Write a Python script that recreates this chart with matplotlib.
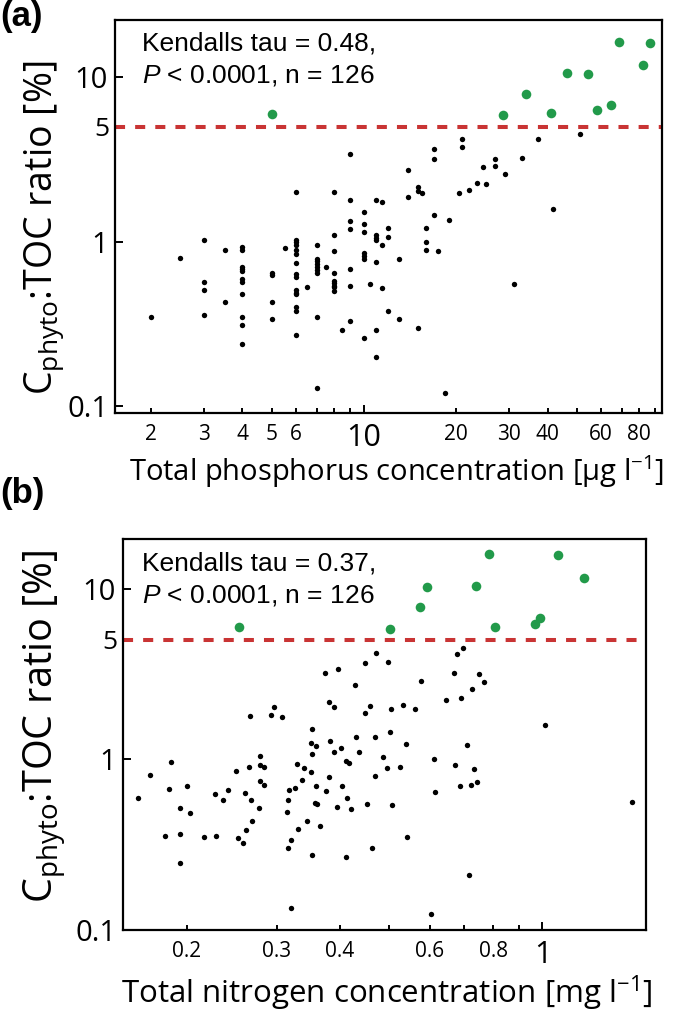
import matplotlib
matplotlib.use('Agg')
import matplotlib.pyplot as plt
from matplotlib.ticker import FixedLocator, FixedFormatter

# ---------------- data ----------------
# Panel (a): total phosphorus [ug/l] vs Cphyto:TOC ratio [%]
tp_black = [2, 2.5, 3, 3, 3, 3, 3.5, 3.5,
            4, 4, 4, 4, 4, 4, 4, 4, 4, 4, 4,
            5, 5, 5, 5, 5.5,
            6, 6, 6, 6, 6, 6, 6, 6, 6, 6, 6, 6, 6, 6, 6,
            6.5,
            7, 7, 7, 7, 7, 7, 7, 7, 7, 7.5,
            8, 8, 8, 8, 8, 8, 8, 8, 8, 8.5,
            9, 9, 9, 9, 9, 9, 9,
            10, 10, 10, 10, 10, 10, 10, 10.5,
            11, 11, 11, 11, 11, 11, 11,
            11.5, 11.5, 11.5, 12, 12, 12, 13, 13,
            14, 14, 15, 15, 15, 15.5, 16, 16, 16, 17, 17, 17, 17.5, 18.5, 19,
            20.5, 21, 21, 22.1, 23.5, 24.6, 25.1, 27, 27, 29, 31.1, 33.1, 37.1,
            41.6, 51.1]
ratio_a_black = [0.35, 0.80, 1.03, 0.57, 0.51, 0.36, 0.89, 0.43,
                 0.93, 0.89, 0.70, 0.68, 0.66, 0.59, 0.57, 0.48, 0.35, 0.31, 0.24,
                 0.65, 0.63, 0.43, 0.34, 0.92,
                 1.03, 0.99, 0.95, 0.89, 0.84, 0.74, 0.64, 0.61, 0.51, 0.49, 0.48, 0.40, 0.38, 0.27, 2.01,
                 0.53,
                 0.96, 0.79, 0.76, 0.73, 0.70, 0.67, 0.65, 0.35, 0.13, 0.70,
                 1.10, 0.88, 0.65, 0.58, 0.56, 0.54, 0.53, 0.50, 2.01, 0.29,
                 1.79, 1.34, 1.19, 0.68, 0.54, 0.33, 3.41,
                 1.51, 1.28, 1.15, 0.85, 0.82, 0.79, 0.26, 0.55,
                 1.80, 1.10, 1.06, 1.02, 0.75, 0.29, 0.20,
                 1.75, 0.95, 0.52, 1.22, 1.07, 0.38, 0.79, 0.34,
                 2.74, 1.87, 2.14, 2.03, 0.30, 1.99, 1.21, 0.99, 0.89, 3.67, 3.20, 1.45, 0.88, 0.12, 1.36,
                 1.99, 4.23, 3.75, 2.07, 2.28, 2.83, 2.24, 3.18, 2.90, 2.58, 0.55, 3.21, 4.19,
                 1.59, 4.53]
tp_green = [5.0, 28.6, 34.1, 41.1, 46.2, 54.2, 58.3, 64.7, 68.6, 82.4, 86.9]
ratio_a_green = [6.0, 5.89, 7.9, 6.03, 10.6, 10.5, 6.3, 6.78, 16.4, 11.9, 16.1]

# Panel (b): total nitrogen [mg/l] vs Cphyto:TOC ratio [%]
tn_black = [0.266, 0.292, 0.296, 0.308, 0.374, 0.397, 0.427, 0.381, 0.389, 0.448, 0.470, 0.497,
            0.448, 0.457, 0.503,
            0.680, 0.697, 0.576, 0.670, 0.749, 0.769, 0.727, 0.646, 0.691, 0.533, 0.562,
            0.501, 0.540, 0.525, 0.611, 0.616, 0.674, 0.711, 0.735, 0.688, 0.724, 0.744,
            0.506, 0.542, 0.718, 0.604, 1.01, 1.50,
            0.160, 0.169, 0.184, 0.186, 0.181, 0.194, 0.194, 0.194, 0.200, 0.203, 0.216,
            0.228, 0.227, 0.235, 0.241, 0.250, 0.252, 0.258, 0.260, 0.261, 0.265, 0.267,
            0.268, 0.278, 0.278, 0.284, 0.278, 0.283, 0.277,
            0.314, 0.316, 0.318, 0.326, 0.329, 0.316, 0.321, 0.320, 0.330, 0.337, 0.340,
            0.344, 0.350, 0.352, 0.350, 0.359, 0.353, 0.353, 0.359, 0.360, 0.357, 0.365,
            0.375, 0.380, 0.383, 0.389,
            0.395, 0.402, 0.404, 0.410, 0.411, 0.416, 0.412, 0.421, 0.430, 0.436,
            0.451, 0.463, 0.468, 0.469, 0.485, 0.495]
ratio_b_black = [1.80, 1.82, 2.02, 1.76, 3.19, 3.40, 2.73, 2.16, 2.02, 3.65, 4.18, 3.73,
                 1.86, 2.04, 1.97,
                 4.15, 4.49, 2.88, 3.19, 3.16, 2.82, 2.58, 2.23, 2.29, 2.07, 1.98,
                 1.45, 1.23, 0.90, 1.00, 0.64, 0.93, 1.22, 0.88, 0.70, 0.71, 0.74,
                 0.54, 0.35, 0.21, 0.124, 1.59, 0.56,
                 0.594, 0.805, 0.673, 0.965, 0.357, 0.516, 0.366, 0.248, 0.698, 0.485, 0.350,
                 0.353, 0.627, 0.581, 0.659, 0.852, 0.347, 0.322, 0.636, 0.384, 0.899, 0.574,
                 0.436, 1.04, 0.927, 0.902, 0.749, 0.707, 0.518,
                 0.493, 0.577, 0.659, 0.682, 0.932, 0.301, 0.338, 0.134, 0.390, 0.759, 0.890,
                 0.436, 0.844, 1.51, 1.24, 1.20, 1.08, 0.274, 0.698, 0.544, 0.558, 0.404,
                 0.656, 0.790, 1.28, 1.11,
                 0.527, 1.16, 0.698, 0.267, 0.978, 0.957, 0.594, 0.513, 1.35, 1.10,
                 0.547, 0.304, 1.35, 0.794, 1.03, 0.887]
tn_green = [0.253, 0.501, 0.574, 0.592, 0.741, 0.784, 0.807, 0.967, 0.990, 1.075, 1.208]
ratio_b_green = [5.99, 5.81, 7.76, 10.2, 10.3, 16.0, 5.94, 6.19, 6.70, 15.7, 11.6]

threshold = 5

# tick definitions
a_xmajor = [10]
a_xmajor_labels = ['10']
a_xminor = [2, 3, 4, 5, 6, 7, 8, 9, 20, 30, 40, 50, 60, 70, 80, 90]
a_xminor_labels = ['2', '3', '4', '5', '6', '', '', '', '20', '30', '40', '', '60', '', '80', '']
b_xmajor = [1]
b_xmajor_labels = ['1']
b_xminor = [0.2, 0.3, 0.4, 0.5, 0.6, 0.7, 0.8, 0.9]
b_xminor_labels = ['0.2', '0.3', '0.4', '', '0.6', '', '0.8', '']
y_major = [0.1, 1, 10]
y_major_labels = ['0.1', '1', '10']

stats_a = ['Kendalls tau = 0.48,', '$P$ < 0.0001, n = 126']
stats_b = ['Kendalls tau = 0.37,', '$P$ < 0.0001, n = 126']
xlabel_a = 'Total phosphorus concentration [µg l$^{\\mathregular{-1}}$]'
xlabel_b = 'Total nitrogen concentration [mg l$^{\\mathregular{-1}}$]'
ylabel = 'C$_{\\mathregular{phyto}}$:TOC ratio [%]'

# ---------------- styling ----------------
plt.rcParams['font.family'] = ['Open Sans', 'DejaVu Sans']
plt.rcParams['mathtext.fontset'] = 'custom'
plt.rcParams['mathtext.rm'] = 'Open Sans'
plt.rcParams['mathtext.it'] = 'Liberation Sans:italic'
plt.rcParams['mathtext.bf'] = 'Open Sans:bold'

GREEN = '#229a4a'
RED = '#c93434'

W, H = 685, 1014
fig = plt.figure(figsize=(W / 100, H / 100), dpi=100)


def fx(px):
    return px / W


def fy(py):
    return 1 - py / H


def make_axes(l, t, r, b):
    return fig.add_axes([fx(l), fy(b), fx(r) - fx(l), fy(t) - fy(b)])


def style(ax, xlim, ylim, xmaj, xmajl, xmin, xminl):
    ax.set_xscale('log')
    ax.set_yscale('log')
    ax.set_xlim(*xlim)
    ax.set_ylim(*ylim)
    ax.xaxis.set_major_locator(FixedLocator(xmaj))
    ax.xaxis.set_major_formatter(FixedFormatter(xmajl))
    ax.xaxis.set_minor_locator(FixedLocator(xmin))
    ax.xaxis.set_minor_formatter(FixedFormatter(xminl))
    ax.yaxis.set_major_locator(FixedLocator(y_major))
    ax.yaxis.set_major_formatter(FixedFormatter(y_major_labels))
    ax.yaxis.set_minor_locator(FixedLocator([threshold]))
    ax.yaxis.set_minor_formatter(FixedFormatter(['5']))
    for s in ax.spines.values():
        s.set_linewidth(1.6)
        s.set_color('black')
    ax.tick_params(axis='x', which='major', direction='in', length=6, width=1.4,
                   labelsize=22, pad=7)
    ax.tick_params(axis='x', which='minor', direction='in', length=3.5, width=1.4,
                   labelsize=15, pad=8)
    ax.tick_params(axis='y', which='major', direction='in', length=6, width=1.4,
                   labelsize=21, pad=5)
    ax.tick_params(axis='y', which='minor', direction='in', length=0, width=0,
                   labelsize=19, pad=4)
    ax.axhline(threshold, color=RED, lw=2.9, dashes=(2.5, 2.5), zorder=1)


def scatter(ax, xb, yb, xg, yg):
    ax.scatter(xb, yb, s=15, color='black', linewidths=0, zorder=3)
    ax.scatter(xg, yg, s=48, color=GREEN, linewidths=0, zorder=3)


# Panel (a)
ax_a = make_axes(115, 20, 662, 413)
style(ax_a, (1.53, 94.9), (0.091, 22.3), a_xmajor, a_xmajor_labels, a_xminor, a_xminor_labels)
scatter(ax_a, tp_black, ratio_a_black, tp_green, ratio_a_green)

# Panel (b)
ax_b = make_axes(123, 539, 646, 930)
style(ax_b, (0.1497, 1.598), (0.1, 19.5), b_xmajor, b_xmajor_labels, b_xminor, b_xminor_labels)
scatter(ax_b, tn_black, ratio_b_black, tn_green, ratio_b_green)

# stats text
for (base1, base2), lines in (((50, 82), stats_a), ((570, 602), stats_b)):
    fig.text(fx(142), fy(base1), lines[0], family='Liberation Sans', fontsize=19,
             ha='left', va='baseline')
    fig.text(fx(142), fy(base2), lines[1], family='Liberation Sans', fontsize=19,
             ha='left', va='baseline')

# axis labels
fig.text(fx(397), fy(472), xlabel_a, fontsize=21, ha='center', va='center')
fig.text(fx(387), fy(993), xlabel_b, fontsize=22.5, ha='center', va='center')
fig.text(fx(44), fy(228), ylabel, fontsize=27, rotation=90, ha='center', va='center')
fig.text(fx(45), fy(726), ylabel, fontsize=28.5, rotation=90, ha='center', va='center')

# panel letters
fig.text(fx(0), fy(0), '(a)', family='Liberation Sans', weight='bold', fontsize=25,
         ha='left', va='top')
fig.text(fx(0), fy(477), '(b)', family='Liberation Sans', weight='bold', fontsize=25,
         ha='left', va='top')

fig.savefig('out.png', dpi=100)
